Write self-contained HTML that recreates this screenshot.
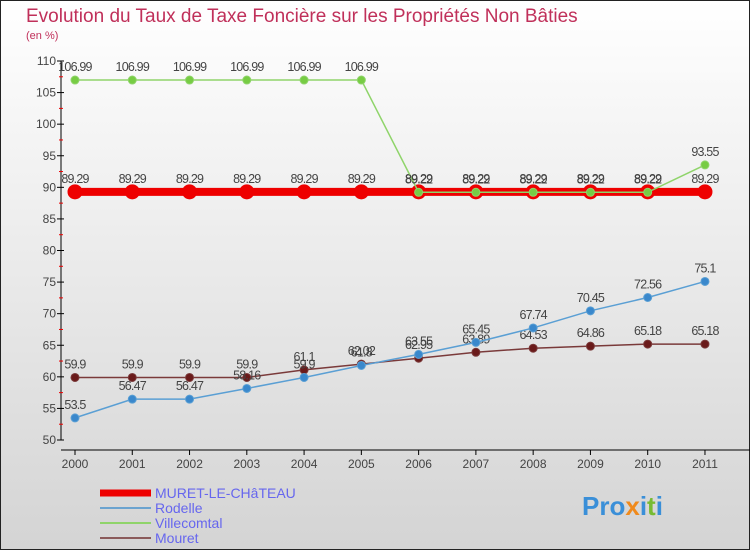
<!DOCTYPE html>
<html><head><meta charset="utf-8"><style>
body{margin:0}
#c{width:750px;height:550px;position:relative;overflow:hidden;font-family:"Liberation Sans",sans-serif}
</style></head><body>
<div id="c">
<svg id="s" width="750" height="550" xmlns="http://www.w3.org/2000/svg">
<defs><linearGradient id="bg" x1="0" y1="0" x2="0" y2="1"><stop offset="0" stop-color="#ffffff"/><stop offset="1" stop-color="#d4d4d4"/></linearGradient></defs>
<rect x="0.5" y="0.5" width="749" height="549" fill="url(#bg)" stroke="#222"/>
<text x="26" y="22" font-size="19" fill="#c0305a">Evolution du Taux de Taxe Foncière sur les Propriétés Non Bâties</text>
<text x="26" y="39" font-size="11" fill="#c0305a">(en %)</text>
<g id="axes"></g><g id="series"></g>
<g>
<line x1="100" y1="493" x2="151" y2="493" stroke="#ee0000" stroke-width="7"/>
<text x="155" y="498" font-size="14" fill="#6666ee">MURET-LE-CHâTEAU</text>
<line x1="100" y1="508" x2="151" y2="508" stroke="#6ba3cf" stroke-width="2"/>
<text x="155" y="513" font-size="14" fill="#6666ee">Rodelle</text>
<line x1="100" y1="523" x2="151" y2="523" stroke="#8fd46a" stroke-width="2"/>
<text x="155" y="528" font-size="14" fill="#6666ee">Villecomtal</text>
<line x1="100" y1="538" x2="151" y2="538" stroke="#8a5a5a" stroke-width="2"/>
<text x="155" y="543" font-size="14" fill="#6666ee">Mouret</text>
</g>
<text x="582" y="515" font-size="26" font-weight="bold" fill="#3a8fd8">Pro<tspan fill="#f08a1c">x</tspan>i<tspan fill="#77bb33">t</tspan>i</text>
</svg>
</div>
<script>
const years=["2000","2001","2002","2003","2004","2005","2006","2007","2008","2009","2010","2011"];
const yTicks=[50,55,60,65,70,75,80,85,90,95,100,105,110];
const muret=[89.29,89.29,89.29,89.29,89.29,89.29,89.29,89.29,89.29,89.29,89.29,89.29];
const rodelle=[53.5,56.47,56.47,58.16,59.9,61.8,63.55,65.45,67.74,70.45,72.56,75.1];
const villecomtal=[106.99,106.99,106.99,106.99,106.99,106.99,89.22,89.22,89.22,89.22,89.22,93.55];
const mouret=[59.9,59.9,59.9,59.9,61.1,62.02,62.95,63.89,64.53,64.86,65.18,65.18];
const NS="http://www.w3.org/2000/svg";
const xs=i=>75+i*57.27, ys=v=>440-(v-50)*(379/60);
function mk(p,t,a){const e=document.createElementNS(NS,t);for(const k in a)e.setAttribute(k,a[k]);p.appendChild(e);return e;}
const ax=document.getElementById('axes'),se=document.getElementById('series');
let e=mk(ax,'line',{x1:61,y1:ys(110),x2:61,y2:ys(50),stroke:'#000'});


e=mk(ax,'line',{x1:61,y1:450,x2:750,y2:450,stroke:'#000'});


yTicks.forEach(v=>{mk(ax,'line',{x1:57,y1:ys(v),x2:64,y2:ys(v),stroke:'#000'});
 if(v<110)mk(ax,'line',{x1:59,y1:ys(v+2.5),x2:63,y2:ys(v+2.5),stroke:'#e00'});
 const t=mk(ax,'text',{x:56,y:ys(v)+4,'font-size':12,fill:'#444','text-anchor':'end'});t.textContent=v;
 
 });
years.forEach((y,i)=>{mk(ax,'line',{x1:xs(i),y1:450,x2:xs(i),y2:455,stroke:'#000'});
 const t=mk(ax,'text',{x:xs(i),y:468,'font-size':12,fill:'#444','text-anchor':'middle'});t.textContent=y;
 
 });
function series(name,data,col,w,r,fill){
 const g=mk(se,'g',{});
 
 
 mk(g,'polyline',{points:data.map((v,i)=>xs(i)+','+ys(v)).join(' '),fill:'none',stroke:col,'stroke-width':w});
 data.forEach((v,i)=>{const c=mk(g,'circle',{cx:xs(i),cy:ys(v),r:r,fill:fill,stroke:col,'stroke-width':1});
  
  
  const t=mk(g,'text',{x:xs(i),y:ys(v)-9,'font-size':12.5,fill:'#444','text-anchor':'middle','letter-spacing':'-0.8'});t.textContent=v;
  
  });
}
series('muret-le-chateau',muret,'#ee0000',8,7,'#ee0000');
series('villecomtal',villecomtal,'#8fd46a',1.5,4,'#77cc44');
series('mouret',mouret,'#7a3a3a',1.5,4,'#6a1a1a');
series('rodelle',rodelle,'#5a9fd4',1.5,4,'#3a88cc');
</script>
</body></html>
